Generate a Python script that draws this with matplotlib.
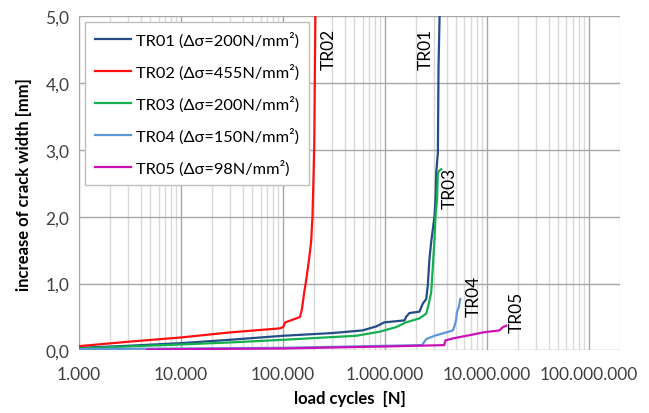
import matplotlib.pyplot as plt
from matplotlib.ticker import FuncFormatter, LogLocator, MultipleLocator

plt.rcParams['font.family'] = ['Lato', 'DejaVu Sans']

# crack width data (load cycles, increase of crack width in mm)
tr01_n = [1e3, 3e3, 1e4, 3e4, 1e5, 3e5, 6.0e5, 8.2e5, 9.8e5, 1.55e6, 1.6e6, 1.73e6,
          2.17e6, 2.34e6, 2.53e6, 2.62e6, 2.72e6, 2.83e6, 2.94e6, 3.05e6, 3.12e6,
          3.17e6, 3.29e6, 3.34e6, 3.42e6]
tr01_w = [0.04, 0.07, 0.11, 0.16, 0.22, 0.26, 0.30, 0.36, 0.42, 0.45, 0.50, 0.56,
          0.58, 0.70, 0.77, 0.97, 1.37, 1.62, 1.82, 2.01, 2.26,
          2.66, 2.96, 4.26, 5.0]

tr02_n = [1e3, 3e3, 1e4, 3e4, 9.2e4, 1.0e5, 1.05e5, 1.46e5, 1.53e5, 1.61e5, 1.67e5,
          1.78e5, 1.88e5, 1.94e5, 1.99e5, 2.02e5, 2.07e5]
tr02_w = [0.065, 0.13, 0.195, 0.27, 0.33, 0.35, 0.42, 0.50, 0.62, 0.87, 1.02,
          1.32, 1.62, 2.01, 2.66, 3.11, 5.0]

tr03_n = [1e3, 3e3, 1e4, 3e4, 1e5, 5.2e5, 8.8e5, 1.28e6, 1.6e6, 2.17e6, 2.53e6,
          2.7e6, 2.83e6, 2.94e6, 3.05e6, 3.12e6, 3.23e6, 3.29e6, 3.42e6, 3.55e6]
tr03_w = [0.03, 0.06, 0.09, 0.12, 0.16, 0.22, 0.28, 0.35, 0.42, 0.48, 0.55,
          0.72, 0.87, 1.27, 1.67, 2.01, 2.26, 2.66, 2.69, 2.71]

tr04_n = [1e3, 1e4, 1e5, 1e6, 2.3e6, 2.53e6, 3.05e6, 3.97e6, 4.61e6, 4.8e6,
          4.98e6, 5.05e6, 5.28e6, 5.46e6]
tr04_w = [0.02, 0.03, 0.04, 0.07, 0.08, 0.17, 0.22, 0.27, 0.30, 0.37,
          0.47, 0.57, 0.65, 0.77]

tr05_n = [4.6e3, 1e4, 1e5, 1e6, 3.8e6, 3.9e6, 4.6e6, 6.8e6, 9.1e6, 13.2e6, 14.3e6, 15.4e6]
tr05_w = [0.015, 0.02, 0.03, 0.06, 0.08, 0.15, 0.18, 0.23, 0.27, 0.30, 0.35, 0.37]

series = [
    ('TR01 (Δσ=200N/mm²)', tr01_n, tr01_w, '#244c86'),
    ('TR02 (Δσ=455N/mm²)', tr02_n, tr02_w, '#ff1010'),
    ('TR03 (Δσ=200N/mm²)', tr03_n, tr03_w, '#14b050'),
    ('TR04 (Δσ=150N/mm²)', tr04_n, tr04_w, '#5e96d8'),
    ('TR05 (Δσ=98N/mm²)', tr05_n, tr05_w, '#cc10b8'),
]

# curve labels placed next to the curve ends
label_names = ['TR02', 'TR01', 'TR03', 'TR04', 'TR05']
label_n = [2.8e5, 2.5e6, 4.3e6, 7.4e6, 1.95e7]
label_w = [4.52, 4.52, 2.44, 0.83, 0.58]

fig = plt.figure(figsize=(6.49, 4.14), dpi=100)
ax = fig.add_axes([0.122, 0.151, 0.833, 0.808])

for name, n, w, c in series:
    ax.plot(n, w, color=c, linewidth=1.6, label=name)

for t, n, w in zip(label_names, label_n, label_w):
    ax.text(n, w, t, rotation=90, ha='center', va='center', fontsize=12.5)

ax.set_xscale('log')
ax.set_xlim(1e3, 2e8)
ax.set_ylim(0, 5)
ax.yaxis.set_major_locator(MultipleLocator(1))
ax.xaxis.set_major_locator(LogLocator(base=10, numticks=12))
ax.xaxis.set_minor_locator(LogLocator(base=10, subs=range(2, 10), numticks=12))
ax.xaxis.set_major_formatter(FuncFormatter(lambda v, p: f'{v:,.0f}'.replace(',', '.')))
ax.yaxis.set_major_formatter(FuncFormatter(lambda v, p: f'{v:.1f}'.replace('.', ',')))

ax.grid(which='major', color='#a6a6a6', linewidth=1.0)
ax.grid(which='minor', axis='x', color='#d9d9d9', linewidth=1.0)
ax.set_axisbelow(True)
for s in ax.spines.values():
    s.set_visible(False)
ax.tick_params(which='both', length=0, labelsize=12.5, colors='#404040')
ax.tick_params(axis='x', pad=11)
ax.tick_params(axis='y', pad=7)

ax.set_xlabel('load cycles  [N]', fontweight='bold', fontsize=12, labelpad=6)
ax.set_ylabel('increase of crack width [mm]', fontweight='bold', fontsize=12, labelpad=10)

leg = ax.legend(loc='upper left', bbox_to_anchor=(0.011, 0.982), borderaxespad=0,
                fontsize=11.8, fancybox=False, framealpha=1, edgecolor='#bfbfbf',
                handlelength=2.2, labelspacing=0.95, borderpad=0.6, handletextpad=0.3)
leg.get_frame().set_linewidth(1.0)

fig.savefig('out.png', dpi=100)
